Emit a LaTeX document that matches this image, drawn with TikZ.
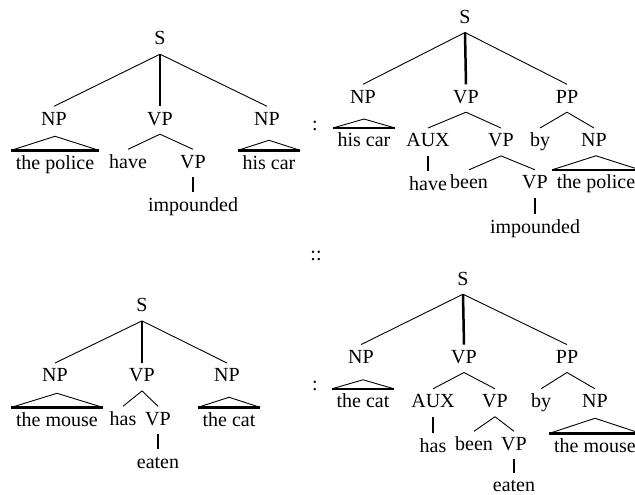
\documentclass[tikz,border=0pt]{standalone}
\usepackage{fontspec}
\setmainfont{Liberation Serif}
\usetikzlibrary{calc}
\newcommand\mytri[2]{%
  \coordinate (#1apex) at ($(#1.north)+(0,-#2)$);
  \draw[edge] (#1.north west) -- (#1apex) -- (#1.north east);
  \draw[heavy] (#1.north west) -- (#1.north east);}
\begin{document}
\begin{tikzpicture}[x=1pt,y=-1pt,
  lab/.style={font=\fontsize{20}{24}\selectfont, text height=14.5pt, text depth=5pt,
    inner xsep=4.5pt, inner ysep=4pt, anchor=base},
  edge/.style={line width=0.9pt},
  heavy/.style={line width=2.5pt}]
\useasboundingbox (0,0) rectangle (635,495);

% ---------- top left ----------
\node[lab] (aS) at (160,45) {S};
\node[lab] (aNP1) at (54,125) {NP};
\node[lab] (aVP1) at (160,125) {VP};
\node[lab] (aNP2) at (267,125) {NP};
\node[lab] (aT1) at (55,169) {the police};
\node[lab] (aHave) at (128,168) {have};
\node[lab] (aVP2) at (193,168) {VP};
\node[lab] (aImp) at (193,211) {impounded};
\node[lab] (aT2) at (269,169) {his car};
\draw[edge] (aS.south) -- (aNP1.north) (aS.south) -- (aNP2.north);
\draw[heavy] (aS.south) -- (aVP1.north);
\draw[edge] (aVP1.south) -- (aHave.north) (aVP1.south) -- (aVP2.north);
\draw[heavy] (aVP2.south) -- (aImp.north);
\mytri{aT1}{14}
\mytri{aT2}{10}

\node[lab] (c1) at (315,130) {:};

% ---------- top right ----------
\node[lab] (bS) at (465,23.3) {S};
\node[lab] (bNP1) at (363,103) {NP};
\node[lab] (bVP1) at (466,103) {VP};
\node[lab] (bPP) at (567,103) {PP};
\node[lab] (bT1) at (364,146.7) {his car};
\node[lab] (bAUX) at (428,146.7) {AUX};
\node[lab] (bVP2) at (501,146.7) {VP};
\node[lab] (bBy) at (540,146.7) {by};
\node[lab] (bNP2) at (594,146.7) {NP};
\node[lab] (bHave) at (428,190) {have};
\node[lab] (bBeen) at (469,188.5) {been};
\node[lab] (bVP3) at (535,188.5) {VP};
\node[lab] (bT2) at (596,188.5) {the police};
\node[lab] (bImp) at (535,233) {impounded};
\draw[edge] (bS.south) -- (bNP1.north) (bS.south) -- (bPP.north);
\draw[heavy] (bS.south) -- (bVP1.north);
\draw[edge] (bVP1.south) -- (bAUX.north) (bVP1.south) -- (bVP2.north);
\draw[edge] (bPP.south) -- (bBy.north) (bPP.south) -- (bNP2.north);
\draw[heavy] (bAUX.south) -- (bHave.north);
\draw[edge] (bVP2.south) -- (bBeen.north) (bVP2.south) -- (bVP3.north);
\draw[heavy] (bVP3.south) -- (bImp.north);
\mytri{bT1}{9}
\mytri{bT2}{14}

\node[lab] (c2) at (316,260) {::};

% ---------- bottom left ----------
\node[lab] (cS) at (142,311.7) {S};
\node[lab] (cNP1) at (55,381.7) {NP};
\node[lab] (cVP1) at (142,381.7) {VP};
\node[lab] (cNP2) at (227,381.7) {NP};
\node[lab] (cT1) at (57,426) {the mouse};
\node[lab] (cHas) at (123,425) {has};
\node[lab] (cVP2) at (158,425) {VP};
\node[lab] (cT2) at (229,426) {the cat};
\node[lab] (cEat) at (158,468) {eaten};
\draw[edge] (cS.south) -- (cNP1.north) (cS.south) -- (cNP2.north);
\draw[heavy] (cS.south) -- (cVP1.north);
\draw[edge] (cVP1.south) -- (cHas.north) (cVP1.south) -- (cVP2.north);
\draw[heavy] (cVP2.south) -- (cEat.north);
\mytri{cT1}{14}
\mytri{cT2}{10}

\node[lab] (c3) at (315,390) {:};

% ---------- bottom right ----------
\node[lab] (dS) at (463,285) {S};
\node[lab] (dNP1) at (361,363.3) {NP};
\node[lab] (dVP1) at (464,363.3) {VP};
\node[lab] (dPP) at (567,363.3) {PP};
\node[lab] (dT1) at (363,407.5) {the cat};
\node[lab] (dAUX) at (433,407.5) {AUX};
\node[lab] (dVP2) at (495,407.5) {VP};
\node[lab] (dBy) at (541,407.5) {by};
\node[lab] (dNP2) at (595,407.5) {NP};
\node[lab] (dHas) at (433,452) {has};
\node[lab] (dBeen) at (474,450) {been};
\node[lab] (dVP3) at (514,450) {VP};
\node[lab] (dT2) at (595,452) {the mouse};
\node[lab] (dEat) at (514,491.5) {eaten};
\draw[edge] (dS.south) -- (dNP1.north) (dS.south) -- (dPP.north);
\draw[heavy] (dS.south) -- (dVP1.north);
\draw[edge] (dVP1.south) -- (dAUX.north) (dVP1.south) -- (dVP2.north);
\draw[edge] (dPP.south) -- (dBy.north) (dPP.south) -- (dNP2.north);
\draw[heavy] (dAUX.south) -- (dHas.north);
\draw[edge] (dVP2.south) -- (dBeen.north) (dVP2.south) -- (dVP3.north);
\draw[heavy] (dVP3.south) -- (dEat.north);
\mytri{dT1}{9}
\mytri{dT2}{15}
\end{tikzpicture}
\end{document}
